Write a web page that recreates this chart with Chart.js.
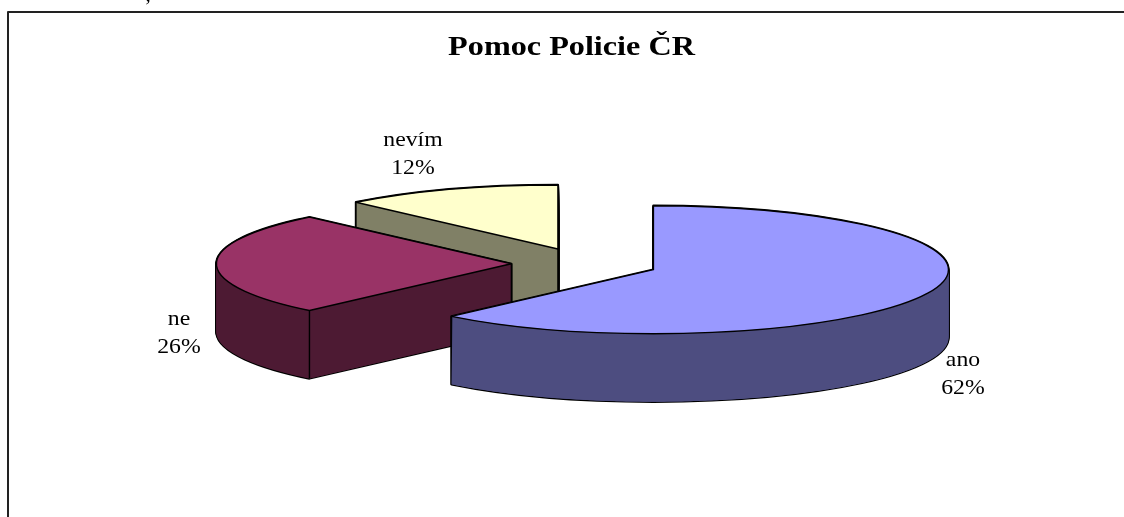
<!DOCTYPE html>
<html><head><meta charset="utf-8">
<style>html,body{margin:0;padding:0;background:#fff}canvas{display:block}</style>
<script src="https://cdn.jsdelivr.net/npm/chart.js@4"></script>
</head><body><canvas id="c" width="1124" height="517"></canvas>
<script>
const categories = ['ano', 'ne', 'nevím'];
const values = [62, 26, 12];
const tickLabels = ['62%', '26%', '12%'];
const topColors = ['#9999FF', '#993366', '#FFFFCC'];
const sideColors = ['#4D4D80', '#4D1A33', '#808066'];
const titleText = 'Pomoc Policie ČR';
const RADIUS = 295, SQUASH = 64 / 295, DEPTH = 68, EXPLODE = 73.6, PIE_SHIFT = 13.5;
const TITLE_CENTER = 571.5, TITLE_STRETCH = 1.15, LABEL_STRETCH = 1.13;
const labelCenters = [[963, 374], [179, 333], [413, 154]];

const pie3d = {
  id: 'pie3d',
  beforeDraw(chart) {
    const ctx = chart.ctx;
    ctx.save();
    ctx.translate(TITLE_CENTER, 0);
    ctx.scale(TITLE_STRETCH, 1);
    ctx.translate(-TITLE_CENTER, 0);
  },
  beforeDatasetsDraw(chart) {
    const ctx = chart.ctx, arcs = chart.getDatasetMeta(0).data;
    ctx.restore();
    const outline = (a, cx, cy) => {
      ctx.beginPath();
      ctx.save();
      ctx.translate(cx, cy);
      ctx.scale(1, SQUASH);
      ctx.moveTo(0, 0);
      ctx.arc(0, 0, a.outerRadius, a.startAngle, a.endAngle);
      ctx.closePath();
      ctx.restore();
    };
    const fillArc = (a, cx, cy, color) => {
      const saved = a.options;
      a.options = Object.assign({}, saved, { backgroundColor: color, borderWidth: 0 });
      ctx.save();
      ctx.translate(cx, cy);
      ctx.scale(1, SQUASH);
      ctx.translate(-a.x, -a.y);
      a.draw(ctx);
      ctx.restore();
      a.options = saved;
    };
    const order = arcs.map((_, i) => i).reverse();
    for (const i of order) {
      const a = arcs[i];
      const mid = (a.startAngle + a.endAngle) / 2;
      const cx = a.x + PIE_SHIFT + Math.cos(mid) * EXPLODE;
      const cy = a.y + Math.sin(mid) * EXPLODE * SQUASH;
      const rim = t => [cx + Math.cos(t) * a.outerRadius, cy + Math.sin(t) * a.outerRadius * SQUASH];
      ctx.strokeStyle = '#000';
      ctx.lineJoin = 'round';
      ctx.lineWidth = 2.4;
      for (let k = DEPTH; k >= 0; k--) { outline(a, cx, cy + k); ctx.stroke(); }
      for (let k = DEPTH; k >= 1; k--) fillArc(a, cx, cy + k, sideColors[i]);
      ctx.fillStyle = sideColors[i];
      const from = Math.max(a.startAngle, 0), to = Math.min(a.endAngle, Math.PI);
      if (to > from) {
        ctx.beginPath();
        for (let t = from; t <= to; t += 0.01) { const p = rim(t); ctx.lineTo(p[0], p[1]); }
        for (let t = to; t >= from; t -= 0.01) { const p = rim(t); ctx.lineTo(p[0], p[1] + DEPTH); }
        ctx.closePath();
        ctx.fill();
      }
      ctx.lineWidth = 1.4;
      if (Math.cos(a.startAngle) < -0.01) {
        const [rx, ry] = rim(a.startAngle);
        ctx.beginPath();
        ctx.moveTo(rx, ry); ctx.lineTo(cx, cy); ctx.lineTo(cx, cy + DEPTH); ctx.lineTo(rx, ry + DEPTH);
        ctx.closePath();
        ctx.fill();
        ctx.beginPath();
        ctx.moveTo(rx, ry); ctx.lineTo(rx, ry + DEPTH);
        ctx.moveTo(cx, cy); ctx.lineTo(cx, cy + DEPTH);
        ctx.stroke();
      }
      fillArc(a, cx, cy, topColors[i]);
      outline(a, cx, cy);
      ctx.stroke();
    }
    return false;
  },
  afterDraw(chart) {
    const ctx = chart.ctx;
    ctx.save();
    ctx.strokeStyle = '#222';
    ctx.lineWidth = 2;
    ctx.beginPath();
    ctx.moveTo(8, 517); ctx.lineTo(8, 12); ctx.lineTo(1124, 12);
    ctx.stroke();
    ctx.fillStyle = '#000';
    ctx.font = '21px "Liberation Serif"';
    ctx.textAlign = 'center';
    ctx.textBaseline = 'middle';
    ctx.fillText(',', 148, -5);
    categories.forEach((c, i) => {
      const [x, y] = labelCenters[i];
      ctx.save();
      ctx.translate(x, y);
      ctx.scale(LABEL_STRETCH, 1);
      ctx.fillText(c, 0, -14);
      ctx.fillText(tickLabels[i], 0, 14);
      ctx.restore();
    });
    ctx.restore();
  }
};

new Chart(document.getElementById('c'), {
  type: 'pie',
  data: {
    labels: categories,
    datasets: [{ data: values, backgroundColor: topColors, borderWidth: 0 }]
  },
  options: {
    responsive: false,
    animation: false,
    radius: RADIUS,
    layout: { padding: { left: 19, bottom: 54 } },
    plugins: {
      legend: { display: false },
      tooltip: { enabled: false },
      title: {
        display: true,
        text: titleText,
        color: '#000',
        font: { family: '"Liberation Serif"', size: 28, weight: 'bold' },
        padding: { top: 31, bottom: 0 }
      }
    }
  },
  plugins: [pie3d]
});
</script></body></html>
